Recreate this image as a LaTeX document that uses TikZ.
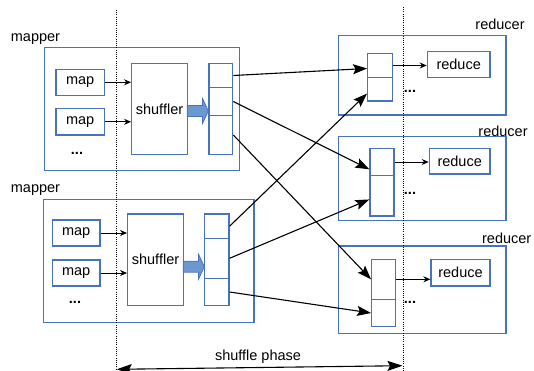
\documentclass[tikz,border=0pt]{standalone}
\usepackage{fontspec}
\setmainfont{Liberation Sans}
\usetikzlibrary{arrows.meta}
\definecolor{boxblue}{RGB}{70,114,190}
\definecolor{fillblue}{RGB}{108,152,208}
\begin{document}
\begin{tikzpicture}[x=1pt,y=-1pt,
  every node/.style={font=\fontsize{14.5}{17}\selectfont},
  box/.style={draw=boxblue, line width=1.3pt, inner sep=0pt, anchor=center},
  lbl/.style={inner sep=0pt, anchor=center},
  dots/.style={inner sep=0pt, anchor=center, font=\fontsize{14.5}{17}\selectfont\bfseries},
  small/.style={-{Stealth[length=7pt,width=6pt]}, line width=0.9pt},
  big/.style={-{Stealth[length=14pt,width=10pt,inset=2.5pt]}, line width=1.1pt},
  phase/.style={{Stealth[length=15pt,width=10pt,inset=2.5pt]}-{Stealth[length=15pt,width=10pt,inset=2.5pt]}, line width=1.1pt},
  sep/.style={dash pattern=on 1pt off 1.2pt, line width=1pt},
  fatarrow/.style={draw=boxblue, fill=fillblue, line width=0.8pt}
]
\useasboundingbox (0,0) rectangle (534,371);

% mapper 1
\node[box, minimum width=195pt, minimum height=123pt] (M1) at (141.8,109.2) {};
\node[lbl] (M1l) at (35.5,39) {mapper};
\node[box, minimum width=48.3pt, minimum height=26pt] (m1a) at (80.2,82.3) {map};
\node[box, minimum width=48.3pt, minimum height=26.3pt] (m1b) at (80.2,121.8) {map};
\node[dots] (m1d) at (77,153) {...};
\node[box, minimum width=55.6pt, minimum height=91.4pt] (s1) at (159.5,109) {shuffler};
\node[box, minimum width=23.7pt, minimum height=24.4pt] (b1a) at (220.8,75.5) {};
\node[box, minimum width=23.7pt, minimum height=27.6pt] (b1b) at (220.8,101.5) {};
\node[box, minimum width=23.7pt, minimum height=39.4pt] (b1c) at (220.8,135) {};
\draw[fatarrow] (187.3,105.5) -- (202.5,105.5) -- (202.5,98.5) -- (208.3,111) -- (202.5,123.5) -- (202.5,116.5) -- (187.3,116.5) -- cycle;

% mapper 2
\node[box, minimum width=210.7pt, minimum height=123.4pt] (M2) at (148.7,261) {};
\node[lbl] (M2l) at (35.5,190) {mapper};
\node[box, minimum width=47.7pt, minimum height=26pt] (m2a) at (76.2,233) {map};
\node[box, minimum width=47.7pt, minimum height=26pt] (m2b) at (76.2,273) {map};
\node[dots] (m2d) at (75,302) {...};
\node[box, minimum width=55.6pt, minimum height=91.7pt] (s2) at (155.5,259.8) {shuffler};
\node[box, minimum width=24.3pt, minimum height=24.3pt] (b2a) at (216.8,226.2) {};
\node[box, minimum width=24.3pt, minimum height=40pt] (b2b) at (216.8,258.3) {};
\node[box, minimum width=24.3pt, minimum height=27.4pt] (b2c) at (216.8,292) {};
\draw[fatarrow] (183.3,261.2) -- (198.5,261.2) -- (198.5,254.2) -- (204.3,266.7) -- (198.5,279.2) -- (198.5,272.2) -- (183.3,272.2) -- cycle;

% reducer 1
\node[box, minimum width=167.7pt, minimum height=79.3pt] (R1) at (422.2,75.3) {};
\node[lbl] (R1l) at (500,24) {reducer};
\node[box, minimum width=24.6pt, minimum height=24.4pt] (r1a) at (380,65.5) {};
\node[box, minimum width=24.6pt, minimum height=23.3pt] (r1b) at (380,89.3) {};
\node[box, minimum width=62.7pt, minimum height=25.6pt] (q1) at (458.7,64.5) {reduce};
\node[dots] (r1d) at (410,91) {...};

% reducer 2
\node[box, minimum width=167.7pt, minimum height=84pt] (R2) at (422.2,178.7) {};
\node[lbl] (R2l) at (503,131) {reducer};
\node[box, minimum width=24pt, minimum height=27.4pt] (r2a) at (382,162) {};
\node[box, minimum width=24pt, minimum height=40.3pt] (r2b) at (382,195.8) {};
\node[box, minimum width=60.7pt, minimum height=25.7pt] (q2) at (459.7,161.2) {reduce};
\node[dots] (r2d) at (410,193) {...};

% reducer 3
\node[box, minimum width=167.7pt, minimum height=87.3pt] (R3) at (422.2,289.7) {};
\node[lbl] (R3l) at (506.7,238) {reducer};
\node[box, minimum width=24pt, minimum height=40pt] (r3a) at (383.7,279.3) {};
\node[box, minimum width=24pt, minimum height=27.4pt] (r3b) at (383.7,313) {};
\node[box, minimum width=59pt, minimum height=26.7pt] (q3) at (460.5,272.7) {reduce};
\node[dots] (r3d) at (410,302) {...};

% phase separators
\coordinate (d1t) at (116.7,10);
\coordinate (d1b) at (116.7,371);
\coordinate (d2t) at (403.3,7);
\coordinate (d2b) at (403.3,371);
\draw[sep] (d1t) -- (d1b);
\draw[sep] (d2t) -- (d2b);

% map -> shuffler
\draw[small] (m1a.east) -- (m1a.east -| s1.west);
\draw[small] (m1b.east) -- (m1b.east -| s1.west);
\draw[small] (m2a.east) -- (m2a.east -| s2.west);
\draw[small] (m2b.east) -- (m2b.east -| s2.west);

% buffer -> reduce
\draw[small] (r1a.east) -- (r1a.east -| q1.west);
\draw[small] (r2a.east) -- (r2a.east -| q2.west);
\draw[small] (r3a.east) -- (r3a.east -| q3.west);

% shuffle connections
\draw[big] (b1a.east) -- (r1a.193);
\draw[big] (b1b.east) -- (r2a.210);
\draw[big] (b1c.east) -- (r3a.west);
\draw[big] (b2a.east) -- (r1b.198);
\draw[big] (b2b.east) -- (r2b.196);
\draw[big] (b2c.east) -- (r3b.west);

% shuffle phase
\coordinate (pl) at (116.7,369.3);
\coordinate (pr) at (402.5,365.7);
\draw[phase] (pl) -- (pr);
\node[lbl] (ph) at (258,357) {shuffle phase};
\end{tikzpicture}
\end{document}
